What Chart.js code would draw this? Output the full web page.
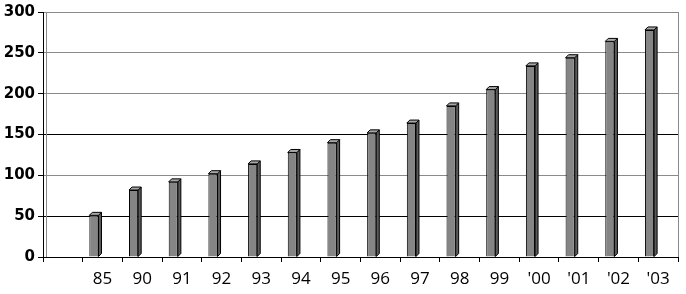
<!DOCTYPE html>
<html>
<head>
<meta charset="utf-8">
<script src="https://cdn.jsdelivr.net/npm/chart.js@4"></script>
<style>
html,body{margin:0;padding:0;background:#fff;}
#wrap{width:686px;height:294px;}
</style>
</head>
<body>
<div id="wrap"><canvas id="c" width="686" height="294"></canvas></div>
<script>
const categories = ["", "85", "90", "91", "92", "93", "94", "95", "96", "97", "98", "99", "'00", "'01", "'02", "'03"];
const values = [null, 51, 82, 92, 102, 114, 128, 140, 152, 164, 185, 205, 234, 244, 264, 278];
const spacer = categories.map(() => null);
const yTicks = [0, 50, 100, 150, 200, 250, 300];
const darkGrid = [0, 50, 150];

const depth = 3;
const bar3d = {
  id: 'bar3d',
  afterDatasetsDraw(chart) {
    const ctx = chart.ctx;
    const meta = chart.getDatasetMeta(0);
    ctx.save();
    ctx.lineWidth = 1;
    ctx.strokeStyle = '#000';
    meta.data.forEach((el, i) => {
      if (values[i] == null) return;
      const w = el.width;
      const xl = el.x - w / 2, xr = el.x + w / 2;
      const top = el.y, base = el.base;
      ctx.beginPath();
      ctx.moveTo(xr, top);
      ctx.lineTo(xr + depth, top - depth);
      ctx.lineTo(xr + depth, base - depth);
      ctx.lineTo(xr, base);
      ctx.closePath();
      ctx.fillStyle = '#5a5a5a';
      ctx.fill();
      ctx.stroke();
      ctx.beginPath();
      ctx.moveTo(xl, top);
      ctx.lineTo(xl + depth, top - depth);
      ctx.lineTo(xr + depth, top - depth);
      ctx.lineTo(xr, top);
      ctx.closePath();
      ctx.fillStyle = '#a8a8a8';
      ctx.fill();
      ctx.stroke();
    });
    ctx.restore();
  }
};
const frame = {
  id: 'frame',
  beforeDatasetsDraw(chart) {
    const a = chart.chartArea, ctx = chart.ctx;
    ctx.save();
    ctx.strokeStyle = '#8a8a8a';
    ctx.lineWidth = 1;
    ctx.beginPath();
    ctx.moveTo(Math.round(a.right) + 0.5, a.top);
    ctx.lineTo(Math.round(a.right) + 0.5, a.bottom);
    ctx.moveTo(Math.round(a.left) + 3.5, a.top);
    ctx.lineTo(Math.round(a.left) + 3.5, a.bottom);
    ctx.stroke();
    ctx.restore();
  }
};

new Chart(document.getElementById('c'), {
  type: 'bar',
  data: {
    labels: categories,
    datasets: [
      { data: values, backgroundColor: '#858585', borderColor: '#000', borderWidth: 1,
        categoryPercentage: 0.87, barPercentage: 0.53 },
      { data: spacer, backgroundColor: 'rgba(0,0,0,0)',
        categoryPercentage: 0.87, barPercentage: 0.53 }
    ]
  },
  options: {
    responsive: false,
    animation: false,
    layout: { padding: { top: 10, right: 8, left: 0, bottom: 0 } },
    plugins: { legend: { display: false }, tooltip: { enabled: false } },
    scales: {
      x: {
        grid: { offset: true, drawOnChartArea: false, drawTicks: true, tickLength: 5, color: '#000' },
        border: { color: '#000', width: 1 },
        ticks: { color: '#000', font: { family: 'Open Sans', size: 17 }, padding: 7, maxRotation: 0, autoSkip: false },
        afterFit(s) { s.height = 37; }
      },
      y: {
        min: 0, max: 300,
        afterBuildTicks(s) { s.ticks = yTicks.map(v => ({ value: v })); },
        grid: {
          color: (c) => darkGrid.includes(c.tick.value) ? '#000' : '#8a8a8a',
          tickColor: '#000', tickLength: 5, drawTicks: true
        },
        border: { color: '#000', width: 1 },
        ticks: { color: '#000', font: { family: 'DejaVu Sans', size: 15, weight: 'bold' }, padding: 3 },
        afterFit(s) { s.width = 43; }
      }
    }
  },
  plugins: [frame, bar3d]
});
</script>
</body>
</html>
